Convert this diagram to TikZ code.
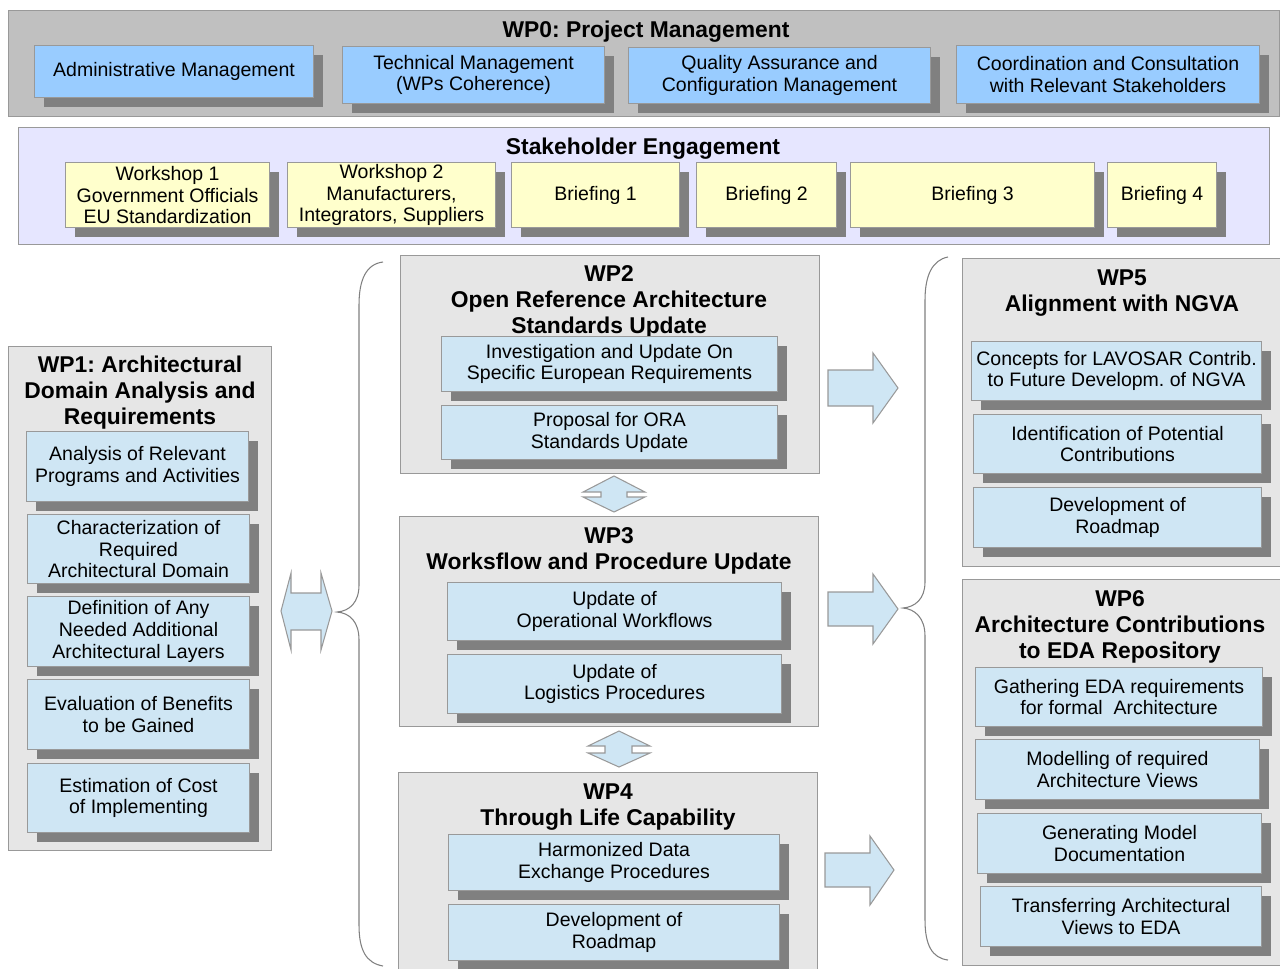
\documentclass[tikz,border=0pt]{standalone}
\usepackage{fontspec}
\setmainfont{Liberation Sans}
\usetikzlibrary{shadows}
\definecolor{pmgray}{HTML}{C0C0C0}
\definecolor{mgtblue}{HTML}{99CCFF}
\definecolor{stklav}{HTML}{E6E6FF}
\definecolor{wsyellow}{HTML}{FFFFCC}
\definecolor{wpgray}{HTML}{E6E6E6}
\definecolor{taskblue}{HTML}{CFE6F4}
\definecolor{shadowgray}{HTML}{808080}
\definecolor{framegray}{HTML}{999999}
\newcommand\pxu{0.02cm}
\frenchspacing
\begin{document}
\begin{tikzpicture}[x=0.02cm,y=-0.02cm,
  wh/.style 2 args={minimum width=#1*\pxu, minimum height=#2*\pxu},
  frame/.style={draw=framegray, line width=0.6pt, anchor=north west, inner sep=0pt},
  wpbox/.style={frame, fill=wpgray},
  title/.style={font=\bfseries\fontsize{13}{14.7}\selectfont, align=center, anchor=base, inner sep=0pt},
  task/.style={frame, fill=taskblue, align=center, font=\fontsize{11.1}{12.4}\selectfont,
    drop shadow={shadow xshift=0.18cm, shadow yshift=-0.18cm, fill=shadowgray, opacity=1}},
  mgt/.style={task, fill=mgtblue},
  ws/.style={task, fill=wsyellow},
  barrow/.style={draw=framegray, fill=taskblue, line width=0.6pt},
  brace/.style={draw=gray, line width=0.6pt}]
  \useasboundingbox (0,0) rectangle (1280,968);

  % WP0 (title nodes sit on the baseline of their last line)
  \node[frame, fill=pmgray, wh={1271}{106}] (wp0) at (8,10) {};
  \node[title] (wp0t) at (646,37) {WP0: Project Management};
  \node[mgt, wh={279}{52}] (admin) at (34,45) {Administrative Management};
  \node[mgt, wh={262}{57}] (tech) at (342,46) {Technical Management\\(WPs Coherence)};
  \node[mgt, wh={302}{56}] (qual) at (628,47) {Quality Assurance and\\Configuration Management};
  \node[mgt, wh={303}{58}] (coord) at (956,45) {Coordination and Consultation\\with Relevant Stakeholders};

  % stakeholder engagement
  \node[frame, fill=stklav, wh={1251}{117}] (stk) at (18,127) {};
  \node[title] (stkt) at (643,154) {Stakeholder Engagement};
  \node[ws, wh={204}{65}] (ws1) at (65,162) {Workshop 1\\Government Officials\\EU Standardization};
  \node[ws, wh={208}{65}] (ws2) at (287,162) {Workshop 2\\Manufacturers,\\Integrators, Suppliers};
  \node[ws, wh={168}{65}] (br1) at (511,162) {Briefing 1};
  \node[ws, wh={140}{65}] (br2) at (696,162) {Briefing 2};
  \node[ws, wh={244}{65}] (br3) at (850,162) {Briefing 3};
  \node[ws, wh={109}{65}] (br4) at (1107,162) {Briefing 4};

  % WP1
  \node[wpbox, wh={263}{504}] (wp1) at (8,346) {};
  \node[title] (wp1t) at (140,424) {WP1: Architectural\\Domain Analysis and\\Requirements};
  \node[task, wh={222}{70}] (wp1a) at (26,431) {Analysis of Relevant\\Programs and Activities};
  \node[task, wh={222}{69}] (wp1b) at (27,514) {Characterization of\\Required\\Architectural Domain};
  \node[task, wh={222}{70}] (wp1c) at (27,596) {Definition of Any\\Needed Additional\\Architectural Layers};
  \node[task, wh={222}{70}] (wp1d) at (27,679) {Evaluation of Benefits\\to be Gained};
  \node[task, wh={222}{69}] (wp1e) at (27,763) {Estimation of Cost\\of Implementing};

  % WP2
  \node[wpbox, wh={419}{218}] (wp2) at (400,255) {};
  \node[title] (wp2t) at (609,333) {WP2\\Open Reference Architecture\\Standards Update};
  \node[task, wh={336}{55}] (wp2a) at (441,336) {Investigation and Update On\\Specific European Requirements};
  \node[task, wh={336}{54}] (wp2b) at (441,405) {Proposal for ORA\\Standards Update};

  % WP3
  \node[wpbox, wh={419}{210}] (wp3) at (399,516) {};
  \node[title] (wp3t) at (609,569) {WP3\\Worksflow and Procedure Update};
  \node[task, wh={334}{58}] (wp3a) at (447,582) {Update of\\Operational Workflows};
  \node[task, wh={334}{59}] (wp3b) at (447,654) {Update of\\Logistics Procedures};

  % WP4
  \node[wpbox, wh={419}{210}] (wp4) at (398,772) {};
  \node[title] (wp4t) at (608,825) {WP4\\Through Life Capability};
  \node[task, wh={331}{56}] (wp4a) at (448,834) {Harmonized Data\\Exchange Procedures};
  \node[task, wh={331}{56}] (wp4b) at (448,904) {Development of\\Roadmap};

  % WP5
  \node[wpbox, wh={325}{308}] (wp5) at (962,258) {};
  \node[title] (wp5t) at (1122,311) {WP5\\Alignment with NGVA};
  \node[task, wh={290}{59}] (wp5a) at (971,341) {Concepts for LAVOSAR Contrib.\\to Future Developm. of NGVA};
  \node[task, wh={288}{59}] (wp5b) at (973,414) {Identification of Potential\\Contributions};
  \node[task, wh={288}{60}] (wp5c) at (973,487) {Development of\\Roadmap};

  % WP6
  \node[wpbox, wh={325}{386}] (wp6) at (962,579) {};
  \node[title] (wp6t) at (1120,658) {WP6\\Architecture Contributions\\to EDA Repository};
  \node[task, wh={287}{59}] (wp6a) at (975,667) {Gathering EDA requirements\\for formal\ \ Architecture};
  \node[task, wh={284}{60}] (wp6b) at (975,739) {Modelling of required\\Architecture Views};
  \node[task, wh={284}{60}] (wp6c) at (977,813) {Generating Model\\Documentation};
  \node[task, wh={281}{60}] (wp6d) at (980,886) {Transferring Architectural\\Views to EDA};

  % block arrows
  \filldraw[barrow] (281,611) -- (291,573) -- (291,593) -- (321,593) -- (321,573) -- (332,611)
    -- (321,650) -- (321,630) -- (291,630) -- (291,650) -- cycle;
  \filldraw[barrow] (614,476) -- (645,492) -- (627,492) -- (627,497) -- (645,497) -- (614,512)
    -- (583,497) -- (601,497) -- (601,492) -- (583,492) -- cycle;
  \filldraw[barrow] (619,731) -- (650,746) -- (632,746) -- (632,753) -- (650,753) -- (619,767)
    -- (588,753) -- (605,753) -- (605,746) -- (588,746) -- cycle;
  \filldraw[barrow] (828,370) -- (873,370) -- (873,353) -- (898,388) -- (873,423) -- (873,406) -- (828,406) -- cycle;
  \filldraw[barrow] (828,592) -- (873,592) -- (873,574) -- (898,609) -- (873,644) -- (873,626) -- (828,626) -- cycle;
  \filldraw[barrow] (825,853) -- (870,853) -- (870,836) -- (894,870) -- (870,905) -- (870,887) -- (825,887) -- cycle;

  % braces
  \draw[brace] (383,262) .. controls (366,264) and (359,280) .. (359,305) -- (359,585)
    .. controls (359,602) and (350,611) .. (337,612) .. controls (350,613) and (359,622) .. (359,640)
    -- (359,925) .. controls (359,950) and (366,963) .. (383,966);
  \draw[brace] (948,257) .. controls (932,260) and (925,276) .. (925,300) -- (925,582)
    .. controls (925,599) and (915,607) .. (903,608) .. controls (915,609) and (925,618) .. (925,636)
    -- (925,920) .. controls (925,945) and (932,958) .. (948,960);
\end{tikzpicture}
\end{document}
